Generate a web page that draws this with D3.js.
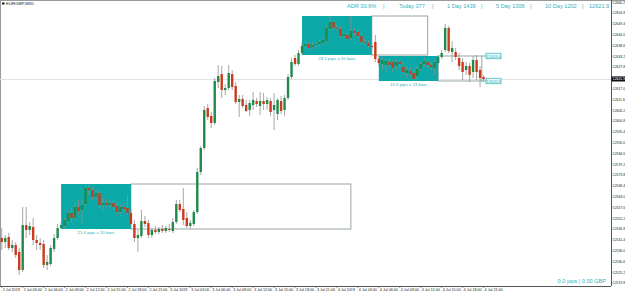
<!DOCTYPE html>
<html>
<head>
    <title>EURGBP,M30</title>
    <script src="https://d3js.org/d3.v7.min.js"></script>
    <style>
        body { margin: 0; background: #fff; }
        text { font-family: "Liberation Sans", Arial, sans-serif; }
    </style>
</head>
<body>
    <div id="chart"></div>
    <script>
        // candle data (M30 bars)
        var opens = [12542.4,12540.4,12542.9,12537.4,12538.9,12535.4,12526.4,12548.9,12546.4,12547.9,
            12541.4,12539.9,12539.4,12528.9,12529.4,12536.9,12542.4,12547.4,12548.4,12550.9,
            12554.9,12552.4,12557.9,12556.4,12559.4,12567.4,12566.4,12562.9,12564.9,12558.9,
            12559.9,12558.9,12559.9,12558.4,12555.4,12557.9,12557.4,12554.9,12549.4,12542.4,
            12543.4,12550.9,12549.9,12543.9,12546.4,12545.4,12546.9,12545.9,12546.9,12545.9,
            12550.4,12559.4,12556.9,12552.4,12548.4,12549.4,12555.4,12575.4,12587.4,12607.4,
            12603.4,12599.9,12620.4,12624.4,12616.4,12617.4,12624.4,12618.4,12610.4,12611.9,
            12608.9,12606.4,12608.9,12610.9,12608.4,12610.9,12609.4,12610.9,12606.4,12604.4,
            12610.9,12606.4,12612.4,12622.9,12632.4,12629.4,12634.9,12638.4,12639.4,12637.9,
            12638.9,12639.4,12639.9,12640.9,12646.9,12650.4,12647.4,12646.9,12643.4,12643.9,
            12642.4,12645.9,12645.4,12643.4,12640.4,12639.9,12638.4,12640.4,12631.9,12629.4,
            12628.9,12630.4,12630.4,12628.4,12630.4,12627.9,12624.9,12625.9,12624.9,12623.4,
            12626.9,12629.4,12630.4,12628.9,12627.4,12629.9,12632.9,12636.4,12647.4,12635.4,
            12635.4,12632.4,12630.4,12626.4,12628.4,12625.4,12631.4,12626.4,12622.9];
        var highs = [12547.4,12543.9,12544.9,12541.4,12540.4,12537.4,12557.9,12557.9,12550.4,12552.4,
            12543.9,12542.4,12541.4,12533.9,12538.9,12544.4,12549.4,12550.4,12552.4,12556.4,
            12557.4,12559.9,12561.4,12561.4,12568.9,12568.9,12567.9,12566.4,12566.4,12562.4,
            12561.9,12561.4,12561.4,12560.4,12558.9,12559.9,12563.9,12556.4,12551.4,12546.4,
            12556.4,12553.4,12551.4,12547.4,12548.4,12547.9,12548.9,12548.4,12549.4,12552.4,
            12561.4,12561.4,12567.4,12555.4,12551.4,12556.4,12577.4,12588.4,12608.4,12609.4,
            12605.4,12622.4,12628.9,12628.4,12619.4,12628.9,12626.4,12620.4,12613.9,12613.9,
            12611.4,12611.4,12615.4,12612.4,12615.4,12614.9,12612.9,12612.4,12614.9,12612.4,
            12613.4,12613.9,12624.4,12632.4,12633.9,12636.4,12640.4,12640.9,12640.9,12640.4,
            12640.4,12641.4,12642.4,12648.4,12653.4,12651.4,12648.9,12648.4,12645.4,12644.9,
            12653.4,12647.4,12646.9,12644.9,12641.9,12641.4,12640.4,12643.9,12633.4,12632.9,
            12631.9,12632.4,12631.4,12631.9,12631.4,12629.9,12628.4,12627.9,12627.4,12628.4,
            12630.4,12632.4,12631.4,12630.4,12631.4,12633.9,12636.4,12649.4,12648.4,12640.9,
            12637.4,12634.9,12632.4,12630.4,12629.9,12633.4,12633.9,12628.4,12623.9];
        var lows = [12536.4,12537.4,12536.4,12535.4,12532.4,12523.9,12525.4,12542.4,12543.9,12538.9,
            12536.4,12536.4,12527.4,12526.4,12528.4,12535.4,12541.4,12546.9,12547.4,12549.9,
            12550.4,12551.4,12553.9,12549.9,12558.4,12563.9,12561.4,12561.4,12557.4,12556.4,
            12557.9,12556.9,12556.4,12554.4,12554.4,12555.9,12553.9,12548.4,12540.4,12535.4,
            12542.4,12547.9,12542.4,12542.4,12544.4,12544.4,12544.9,12544.9,12545.4,12544.9,
            12549.4,12555.4,12548.9,12547.4,12546.9,12548.4,12554.4,12573.9,12586.4,12601.4,
            12597.4,12598.9,12617.4,12612.4,12613.9,12616.4,12616.4,12609.4,12602.9,12607.4,
            12605.4,12603.4,12606.4,12607.9,12603.9,12606.4,12606.4,12603.4,12596.4,12601.4,
            12604.4,12603.4,12611.4,12621.9,12628.4,12628.4,12633.9,12636.4,12636.4,12636.9,
            12637.4,12637.9,12638.9,12639.9,12645.9,12646.4,12645.9,12642.4,12642.4,12640.9,
            12641.4,12643.4,12642.4,12639.4,12638.9,12637.4,12636.4,12630.4,12628.4,12626.4,
            12624.9,12627.4,12625.4,12626.4,12627.4,12623.9,12622.4,12623.4,12620.9,12621.9,
            12625.9,12627.9,12627.4,12626.4,12623.9,12628.9,12631.9,12635.4,12634.9,12630.4,
            12631.4,12626.4,12621.4,12623.9,12620.4,12622.4,12621.4,12617.9,12620.9];
        var closes = [12540.4,12542.4,12537.4,12538.9,12533.9,12526.4,12548.9,12546.4,12548.4,12541.4,
            12539.9,12538.9,12528.9,12530.4,12537.4,12542.4,12547.4,12548.9,12551.4,12554.9,
            12552.4,12557.9,12555.9,12558.9,12567.4,12566.4,12562.9,12564.9,12558.9,12559.9,
            12558.9,12559.9,12557.9,12555.4,12557.9,12556.9,12554.9,12549.4,12542.4,12543.9,
            12550.9,12549.4,12543.9,12546.4,12545.4,12546.9,12545.9,12547.4,12546.4,12550.4,
            12559.4,12556.4,12551.4,12548.4,12549.9,12555.4,12575.4,12587.4,12606.4,12602.9,
            12599.9,12620.9,12623.4,12616.4,12617.4,12624.9,12617.9,12610.4,12611.9,12608.4,
            12605.9,12609.9,12611.4,12609.4,12610.9,12609.4,12611.4,12605.4,12608.9,12611.4,
            12605.9,12612.4,12622.9,12630.4,12629.4,12634.9,12638.4,12639.4,12637.4,12638.9,
            12639.4,12640.4,12641.4,12647.4,12650.4,12647.4,12646.9,12643.4,12644.4,12641.9,
            12645.9,12644.9,12643.4,12640.4,12639.9,12638.4,12637.9,12631.9,12629.9,12631.4,
            12630.9,12628.9,12627.4,12630.4,12629.4,12625.4,12626.4,12624.4,12621.9,12626.9,
            12629.4,12630.9,12628.9,12627.9,12630.4,12632.9,12634.9,12647.4,12635.9,12637.4,
            12632.9,12628.4,12625.4,12628.4,12623.9,12631.4,12625.4,12622.4,12621.9];

        // price axis labels
        var priceTicks = [12660.2,12654.8,12649.4,12644.0,12638.6,12633.2,12627.8,12622.4,12617.0,
            12611.6,12606.2,12600.8,12595.4,12590.0,12584.6,12579.2,12573.8,12568.4,12563.0,
            12557.6,12552.2,12546.8,12541.4,12536.0,12530.6,12525.2,12519.8];

        // time axis labels, one every 6 bars
        var timeLabels = ["2 Jul 2019","2 Jul 03:00","2 Jul 06:00","2 Jul 09:00","2 Jul 12:00","2 Jul 15:00",
            "2 Jul 18:00","2 Jul 21:00","3 Jul 2019","3 Jul 03:00","3 Jul 06:00","3 Jul 09:00",
            "3 Jul 12:00","3 Jul 15:00","3 Jul 18:00","3 Jul 21:00","4 Jul 2019","4 Jul 03:00",
            "4 Jul 06:00","4 Jul 09:00","4 Jul 12:00","4 Jul 15:00","4 Jul 18:00","4 Jul 21:00"];

        // range boxes
        var boxStart = [17, 86, 108];
        var boxEnd = [37, 106, 125];
        var boxExtend = [100, 122, 137.5];
        var boxTop = [12569.4, 12653.4, 12633.4];
        var boxBottom = [12546.9, 12633.9, 12620.9];
        var boxLabels = ["21.6 pips x 20 bars", "24.1 pips x 20 bars", "15.5 pips x 23 bars"];

        // header info
        var headerItems = ["ADR 30.6%", "|", "Today 377", "|", "1 Day 1439", "|", "5 Day 1306", "|", "10 Day 1202", "|", "12621.9"];
        var headerX = [347, 383, 399, 432, 447, 481, 496, 530, 545, 582, 589];

        const W = 625, H = 292;
        const plotRight = 611, plotBottom = 286;
        const teal = "#0aa9a7", tealText = "#2fb3bf";

        var svg = d3.select("#chart").append("svg")
            .attr("width", W)
            .attr("height", H);

        // scales
        var x = d3.scaleLinear().domain([-0.5, 174.5]).range([0, plotRight]);
        var y = d3.scaleLinear().domain([12661.4, 12518.4]).range([0, plotBottom]);

        var bars = opens.map(function (o, i) {
            return { i: i, o: o, h: highs[i], l: lows[i], c: closes[i] };
        });

        // frame
        svg.append("line").attr("x1", 0).attr("x2", W).attr("y1", 0.5).attr("y2", 0.5).attr("stroke", "#9a9a9a");
        svg.append("line").attr("x1", 0.5).attr("x2", 0.5).attr("y1", 0).attr("y2", plotBottom).attr("stroke", "#9a9a9a");

        // current price line
        var last = closes[closes.length - 1];
        svg.append("line")
            .attr("x1", 0).attr("x2", plotRight)
            .attr("y1", Math.round(y(last)) + 0.5).attr("y2", Math.round(y(last)) + 0.5)
            .attr("stroke", "#e2e2e2");

        // boxes: teal range plus outlined extension
        boxStart.forEach(function (s, k) {
            var x0 = x(s), x1 = x(boxEnd[k]), x2 = x(boxExtend[k]);
            var y0 = y(boxTop[k]), y1 = y(boxBottom[k]);
            svg.append("rect")
                .attr("x", x1).attr("y", y0)
                .attr("width", x2 - x1).attr("height", y1 - y0)
                .attr("fill", "none").attr("stroke", "#8e9c9c").attr("stroke-width", 0.9);
            svg.append("rect")
                .attr("x", x0).attr("y", y0)
                .attr("width", x1 - x0).attr("height", y1 - y0)
                .attr("fill", teal);
            svg.append("text")
                .attr("x", (x0 + x1) / 2).attr("y", y1 + 4.5)
                .attr("text-anchor", "middle")
                .style("font-size", "4.4px").attr("fill", tealText)
                .text(boxLabels[k]);
        });

        // candles
        var g = svg.append("g");
        g.selectAll("line.wick")
            .data(bars).enter().append("line")
            .attr("class", "wick")
            .attr("x1", function (d) { return x(d.i); })
            .attr("x2", function (d) { return x(d.i); })
            .attr("y1", function (d) { return y(d.h); })
            .attr("y2", function (d) { return y(d.l); })
            .attr("stroke", "#909090").attr("stroke-width", 0.8);
        g.selectAll("rect.body")
            .data(bars).enter().append("rect")
            .attr("class", "body")
            .attr("x", function (d) { return x(d.i) - 1.2; })
            .attr("y", function (d) { return y(Math.max(d.o, d.c)); })
            .attr("width", 2.4)
            .attr("height", function (d) { return Math.max(1, Math.abs(y(d.o) - y(d.c))); })
            .attr("fill", function (d) { return d.c >= d.o ? "#1f8a4a" : "#cc3a1e"; });

        // price labels for the last box
        var lb = boxStart.length - 1;
        [boxTop[lb], boxBottom[lb]].forEach(function (p) {
            var yy = y(p);
            svg.append("line").attr("x1", x(boxExtend[lb])).attr("x2", 486)
                .attr("y1", yy).attr("y2", yy).attr("stroke", teal).attr("stroke-width", 0.7);
            svg.append("rect").attr("x", 486).attr("y", yy - 2.8).attr("width", 15).attr("height", 5.6)
                .attr("fill", "#eafafa").attr("stroke", teal).attr("stroke-width", 0.6);
            svg.append("text").attr("x", 493.5).attr("y", yy + 1.5)
                .attr("text-anchor", "middle").style("font-size", "4px").attr("fill", tealText)
                .text(p.toFixed(1));
        });

        // right price axis
        var yAxis = svg.append("g").attr("transform", "translate(" + plotRight + ",0)");
        yAxis.append("line").attr("x1", 0.5).attr("x2", 0.5).attr("y1", 0).attr("y2", plotBottom).attr("stroke", "#555");
        priceTicks.forEach(function (p) {
            var yy = y(p);
            yAxis.append("line").attr("x1", 0).attr("x2", 1.5).attr("y1", yy).attr("y2", yy).attr("stroke", "#555").attr("stroke-width", 0.6);
            yAxis.append("text").attr("x", 1.8).attr("y", yy + 1.2)
                .style("font-size", "3.4px").attr("fill", "#222").text(p.toFixed(1));
        });
        // current price tag
        yAxis.append("rect").attr("x", 0.5).attr("y", y(last) - 2.5).attr("width", 13.5).attr("height", 5).attr("fill", "#111");
        yAxis.append("text").attr("x", 1.8).attr("y", y(last) + 1.2)
            .style("font-size", "3.4px").attr("fill", "#fff").text(last.toFixed(1));

        // bottom time axis
        var xAxis = svg.append("g").attr("transform", "translate(0," + plotBottom + ")");
        xAxis.append("line").attr("x1", 0).attr("x2", plotRight).attr("y1", 0.5).attr("y2", 0.5).attr("stroke", "#555");
        timeLabels.forEach(function (t, k) {
            var xx = x(k * 6);
            xAxis.append("line").attr("x1", xx).attr("x2", xx).attr("y1", 0).attr("y2", 2).attr("stroke", "#555").attr("stroke-width", 0.6);
            xAxis.append("text").attr("x", xx + 1).attr("y", 5)
                .style("font-size", "3.7px").attr("fill", "#222").text(t);
        });

        // title
        svg.append("rect").attr("x", 2).attr("y", 2.5).attr("width", 2.5).attr("height", 2).attr("fill", "#111");
        svg.append("text").attr("x", 6).attr("y", 5.2).style("font-size", "4.4px").attr("fill", "#222").text("EURGBP,M30");

        // header info
        headerItems.forEach(function (t, k) {
            svg.append("text").attr("x", headerX[k]).attr("y", 7.5)
                .style("font-size", "5.6px").attr("fill", tealText).text(t);
        });

        // profit readout
        svg.append("text").attr("x", 606).attr("y", 283).attr("text-anchor", "end")
            .style("font-size", "5.6px").attr("fill", tealText).text("0.0 pips | 0.00 GBP");
    </script>
</body>
</html>
